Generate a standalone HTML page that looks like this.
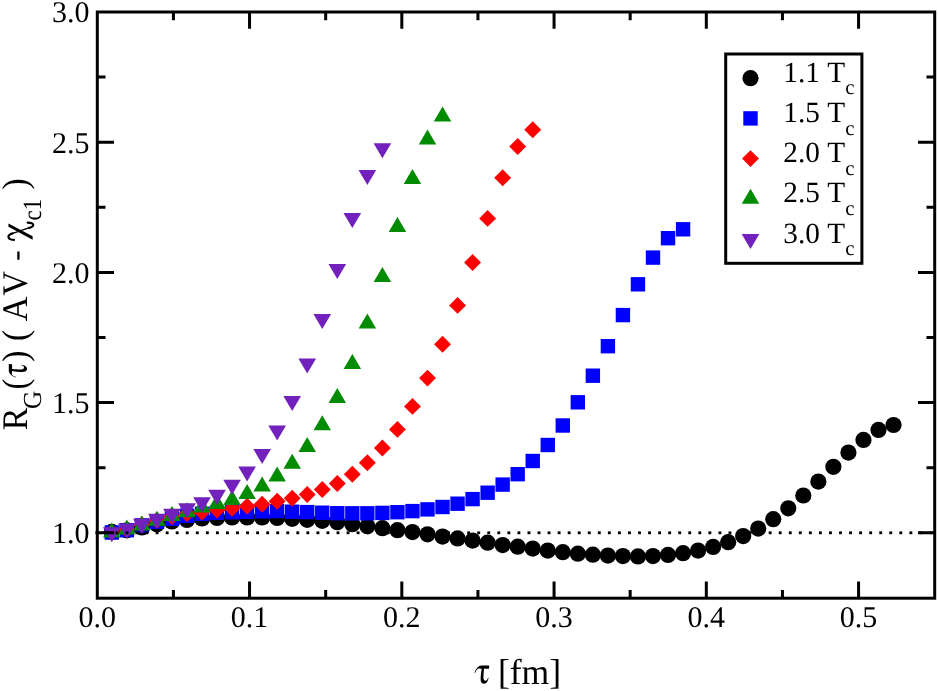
<!DOCTYPE html><html><head><meta charset="utf-8"><title>R_G(tau) AV chi_c1</title>
<style>html,body{margin:0;padding:0;background:#fff;}body{width:938px;height:691px;overflow:hidden;}svg{display:block;}text{font-family:"Liberation Serif",serif;fill:#000;text-rendering:geometricPrecision;font-kerning:none;}svg{will-change:transform;}</style></head><body>
<svg width="938" height="691" viewBox="0 0 938 691">
<rect width="938" height="691" fill="#fff"/>
<g><circle cx="111.80" cy="531.90" r="8.1" fill="#000000"/><circle cx="126.84" cy="530.30" r="8.1" fill="#000000"/><circle cx="141.87" cy="527.50" r="8.1" fill="#000000"/><circle cx="156.90" cy="524.30" r="8.1" fill="#000000"/><circle cx="171.94" cy="521.50" r="8.1" fill="#000000"/><circle cx="186.97" cy="519.90" r="8.1" fill="#000000"/><circle cx="202.00" cy="518.50" r="8.1" fill="#000000"/><circle cx="217.03" cy="517.90" r="8.1" fill="#000000"/><circle cx="232.07" cy="517.50" r="8.1" fill="#000000"/><circle cx="247.10" cy="517.50" r="8.1" fill="#000000"/><circle cx="262.13" cy="517.50" r="8.1" fill="#000000"/><circle cx="277.17" cy="518.00" r="8.1" fill="#000000"/><circle cx="292.20" cy="518.80" r="8.1" fill="#000000"/><circle cx="307.23" cy="519.80" r="8.1" fill="#000000"/><circle cx="322.26" cy="520.80" r="8.1" fill="#000000"/><circle cx="337.30" cy="522.20" r="8.1" fill="#000000"/><circle cx="352.33" cy="524.20" r="8.1" fill="#000000"/><circle cx="367.36" cy="526.20" r="8.1" fill="#000000"/><circle cx="382.40" cy="528.20" r="8.1" fill="#000000"/><circle cx="397.43" cy="530.20" r="8.1" fill="#000000"/><circle cx="412.46" cy="532.10" r="8.1" fill="#000000"/><circle cx="427.50" cy="534.30" r="8.1" fill="#000000"/><circle cx="442.53" cy="536.60" r="8.1" fill="#000000"/><circle cx="457.56" cy="538.40" r="8.1" fill="#000000"/><circle cx="472.59" cy="540.60" r="8.1" fill="#000000"/><circle cx="487.63" cy="542.70" r="8.1" fill="#000000"/><circle cx="502.66" cy="545.10" r="8.1" fill="#000000"/><circle cx="517.69" cy="546.70" r="8.1" fill="#000000"/><circle cx="532.73" cy="548.60" r="8.1" fill="#000000"/><circle cx="547.76" cy="550.60" r="8.1" fill="#000000"/><circle cx="562.79" cy="552.20" r="8.1" fill="#000000"/><circle cx="577.83" cy="553.70" r="8.1" fill="#000000"/><circle cx="592.86" cy="554.70" r="8.1" fill="#000000"/><circle cx="607.89" cy="555.60" r="8.1" fill="#000000"/><circle cx="622.92" cy="556.10" r="8.1" fill="#000000"/><circle cx="637.96" cy="556.40" r="8.1" fill="#000000"/><circle cx="652.99" cy="556.10" r="8.1" fill="#000000"/><circle cx="668.02" cy="554.90" r="8.1" fill="#000000"/><circle cx="683.06" cy="553.20" r="8.1" fill="#000000"/><circle cx="698.09" cy="550.60" r="8.1" fill="#000000"/><circle cx="713.12" cy="546.90" r="8.1" fill="#000000"/><circle cx="728.16" cy="542.20" r="8.1" fill="#000000"/><circle cx="743.19" cy="536.10" r="8.1" fill="#000000"/><circle cx="758.22" cy="528.60" r="8.1" fill="#000000"/><circle cx="773.25" cy="519.20" r="8.1" fill="#000000"/><circle cx="788.29" cy="508.30" r="8.1" fill="#000000"/><circle cx="803.32" cy="495.50" r="8.1" fill="#000000"/><circle cx="818.35" cy="481.60" r="8.1" fill="#000000"/><circle cx="833.39" cy="466.80" r="8.1" fill="#000000"/><circle cx="848.42" cy="452.60" r="8.1" fill="#000000"/><circle cx="863.45" cy="439.90" r="8.1" fill="#000000"/><circle cx="878.49" cy="429.90" r="8.1" fill="#000000"/><circle cx="893.52" cy="425.00" r="8.1" fill="#000000"/><rect x="104.60" y="525.30" width="14.4" height="14.4" fill="#0000ff"/><rect x="119.64" y="523.00" width="14.4" height="14.4" fill="#0000ff"/><rect x="134.67" y="518.20" width="14.4" height="14.4" fill="#0000ff"/><rect x="149.70" y="514.60" width="14.4" height="14.4" fill="#0000ff"/><rect x="164.74" y="511.60" width="14.4" height="14.4" fill="#0000ff"/><rect x="179.77" y="508.60" width="14.4" height="14.4" fill="#0000ff"/><rect x="194.80" y="506.60" width="14.4" height="14.4" fill="#0000ff"/><rect x="209.83" y="505.60" width="14.4" height="14.4" fill="#0000ff"/><rect x="224.87" y="505.00" width="14.4" height="14.4" fill="#0000ff"/><rect x="239.90" y="504.60" width="14.4" height="14.4" fill="#0000ff"/><rect x="254.93" y="504.20" width="14.4" height="14.4" fill="#0000ff"/><rect x="269.97" y="503.90" width="14.4" height="14.4" fill="#0000ff"/><rect x="285.00" y="504.50" width="14.4" height="14.4" fill="#0000ff"/><rect x="300.03" y="504.90" width="14.4" height="14.4" fill="#0000ff"/><rect x="315.06" y="505.50" width="14.4" height="14.4" fill="#0000ff"/><rect x="330.10" y="506.00" width="14.4" height="14.4" fill="#0000ff"/><rect x="345.13" y="506.10" width="14.4" height="14.4" fill="#0000ff"/><rect x="360.16" y="506.10" width="14.4" height="14.4" fill="#0000ff"/><rect x="375.20" y="505.70" width="14.4" height="14.4" fill="#0000ff"/><rect x="390.23" y="505.00" width="14.4" height="14.4" fill="#0000ff"/><rect x="405.26" y="503.90" width="14.4" height="14.4" fill="#0000ff"/><rect x="420.30" y="502.20" width="14.4" height="14.4" fill="#0000ff"/><rect x="435.33" y="499.80" width="14.4" height="14.4" fill="#0000ff"/><rect x="450.36" y="496.50" width="14.4" height="14.4" fill="#0000ff"/><rect x="465.39" y="491.90" width="14.4" height="14.4" fill="#0000ff"/><rect x="480.43" y="485.50" width="14.4" height="14.4" fill="#0000ff"/><rect x="495.46" y="477.40" width="14.4" height="14.4" fill="#0000ff"/><rect x="510.49" y="467.00" width="14.4" height="14.4" fill="#0000ff"/><rect x="525.53" y="453.80" width="14.4" height="14.4" fill="#0000ff"/><rect x="540.56" y="437.80" width="14.4" height="14.4" fill="#0000ff"/><rect x="555.59" y="418.30" width="14.4" height="14.4" fill="#0000ff"/><rect x="570.63" y="395.10" width="14.4" height="14.4" fill="#0000ff"/><rect x="585.66" y="368.50" width="14.4" height="14.4" fill="#0000ff"/><rect x="600.69" y="339.00" width="14.4" height="14.4" fill="#0000ff"/><rect x="615.72" y="307.90" width="14.4" height="14.4" fill="#0000ff"/><rect x="630.76" y="277.10" width="14.4" height="14.4" fill="#0000ff"/><rect x="645.79" y="250.40" width="14.4" height="14.4" fill="#0000ff"/><rect x="660.82" y="231.00" width="14.4" height="14.4" fill="#0000ff"/><rect x="675.86" y="222.10" width="14.4" height="14.4" fill="#0000ff"/><path d="M111.80 523.85L120.25 532.30L111.80 540.75L103.35 532.30Z" fill="#ff0000"/><path d="M126.84 521.15L135.29 529.60L126.84 538.05L118.39 529.60Z" fill="#ff0000"/><path d="M141.87 516.15L150.32 524.60L141.87 533.05L133.42 524.60Z" fill="#ff0000"/><path d="M156.90 511.85L165.35 520.30L156.90 528.75L148.45 520.30Z" fill="#ff0000"/><path d="M171.94 508.15L180.38 516.60L171.94 525.05L163.49 516.60Z" fill="#ff0000"/><path d="M186.97 505.05L195.42 513.50L186.97 521.95L178.52 513.50Z" fill="#ff0000"/><path d="M202.00 503.55L210.45 512.00L202.00 520.45L193.55 512.00Z" fill="#ff0000"/><path d="M217.03 501.55L225.48 510.00L217.03 518.45L208.58 510.00Z" fill="#ff0000"/><path d="M232.07 499.75L240.52 508.20L232.07 516.65L223.62 508.20Z" fill="#ff0000"/><path d="M247.10 497.75L255.55 506.20L247.10 514.65L238.65 506.20Z" fill="#ff0000"/><path d="M262.13 495.75L270.58 504.20L262.13 512.65L253.68 504.20Z" fill="#ff0000"/><path d="M277.17 492.85L285.62 501.30L277.17 509.75L268.72 501.30Z" fill="#ff0000"/><path d="M292.20 489.85L300.65 498.30L292.20 506.75L283.75 498.30Z" fill="#ff0000"/><path d="M307.23 486.05L315.68 494.50L307.23 502.95L298.78 494.50Z" fill="#ff0000"/><path d="M322.26 481.05L330.71 489.50L322.26 497.95L313.81 489.50Z" fill="#ff0000"/><path d="M337.30 475.05L345.75 483.50L337.30 491.95L328.85 483.50Z" fill="#ff0000"/><path d="M352.33 465.75L360.78 474.20L352.33 482.65L343.88 474.20Z" fill="#ff0000"/><path d="M367.36 454.35L375.81 462.80L367.36 471.25L358.91 462.80Z" fill="#ff0000"/><path d="M382.40 439.55L390.85 448.00L382.40 456.45L373.95 448.00Z" fill="#ff0000"/><path d="M397.43 420.95L405.88 429.40L397.43 437.85L388.98 429.40Z" fill="#ff0000"/><path d="M412.46 397.95L420.91 406.40L412.46 414.85L404.01 406.40Z" fill="#ff0000"/><path d="M427.50 369.65L435.95 378.10L427.50 386.55L419.05 378.10Z" fill="#ff0000"/><path d="M442.53 335.85L450.98 344.30L442.53 352.75L434.08 344.30Z" fill="#ff0000"/><path d="M457.56 296.95L466.01 305.40L457.56 313.85L449.11 305.40Z" fill="#ff0000"/><path d="M472.59 254.05L481.04 262.50L472.59 270.95L464.14 262.50Z" fill="#ff0000"/><path d="M487.63 209.95L496.08 218.40L487.63 226.85L479.18 218.40Z" fill="#ff0000"/><path d="M502.66 169.35L511.11 177.80L502.66 186.25L494.21 177.80Z" fill="#ff0000"/><path d="M517.69 138.05L526.14 146.50L517.69 154.95L509.24 146.50Z" fill="#ff0000"/><path d="M532.73 121.25L541.18 129.70L532.73 138.15L524.28 129.70Z" fill="#ff0000"/><path d="M111.80 522.50L120.55 537.50L103.05 537.50Z" fill="#008b00"/><path d="M126.84 519.60L135.59 534.60L118.09 534.60Z" fill="#008b00"/><path d="M141.87 515.60L150.62 530.60L133.12 530.60Z" fill="#008b00"/><path d="M156.90 510.70L165.65 525.70L148.15 525.70Z" fill="#008b00"/><path d="M171.94 505.90L180.69 520.90L163.19 520.90Z" fill="#008b00"/><path d="M186.97 502.20L195.72 517.20L178.22 517.20Z" fill="#008b00"/><path d="M202.00 497.40L210.75 512.40L193.25 512.40Z" fill="#008b00"/><path d="M217.03 494.00L225.78 509.00L208.28 509.00Z" fill="#008b00"/><path d="M232.07 490.00L240.82 505.00L223.32 505.00Z" fill="#008b00"/><path d="M247.10 484.00L255.85 499.00L238.35 499.00Z" fill="#008b00"/><path d="M262.13 476.50L270.88 491.50L253.38 491.50Z" fill="#008b00"/><path d="M277.17 466.50L285.92 481.50L268.42 481.50Z" fill="#008b00"/><path d="M292.20 453.80L300.95 468.80L283.45 468.80Z" fill="#008b00"/><path d="M307.23 437.00L315.98 452.00L298.48 452.00Z" fill="#008b00"/><path d="M322.26 415.30L331.01 430.30L313.51 430.30Z" fill="#008b00"/><path d="M337.30 388.00L346.05 403.00L328.55 403.00Z" fill="#008b00"/><path d="M352.33 354.00L361.08 369.00L343.58 369.00Z" fill="#008b00"/><path d="M367.36 313.60L376.11 328.60L358.61 328.60Z" fill="#008b00"/><path d="M382.40 267.00L391.15 282.00L373.65 282.00Z" fill="#008b00"/><path d="M397.43 217.00L406.18 232.00L388.68 232.00Z" fill="#008b00"/><path d="M412.46 169.00L421.21 184.00L403.71 184.00Z" fill="#008b00"/><path d="M427.50 129.40L436.25 144.40L418.75 144.40Z" fill="#008b00"/><path d="M442.53 106.60L451.28 121.60L433.78 121.60Z" fill="#008b00"/><path d="M111.80 542.30L120.65 527.30L102.95 527.30Z" fill="#7221bc"/><path d="M126.84 538.60L135.69 523.60L117.99 523.60Z" fill="#7221bc"/><path d="M141.87 533.80L150.72 518.80L133.02 518.80Z" fill="#7221bc"/><path d="M156.90 528.70L165.75 513.70L148.05 513.70Z" fill="#7221bc"/><path d="M171.94 523.70L180.78 508.70L163.09 508.70Z" fill="#7221bc"/><path d="M186.97 518.30L195.82 503.30L178.12 503.30Z" fill="#7221bc"/><path d="M202.00 512.20L210.85 497.20L193.15 497.20Z" fill="#7221bc"/><path d="M217.03 504.80L225.88 489.80L208.18 489.80Z" fill="#7221bc"/><path d="M232.07 494.80L240.92 479.80L223.22 479.80Z" fill="#7221bc"/><path d="M247.10 481.50L255.95 466.50L238.25 466.50Z" fill="#7221bc"/><path d="M262.13 464.00L270.98 449.00L253.28 449.00Z" fill="#7221bc"/><path d="M277.17 440.60L286.02 425.60L268.32 425.60Z" fill="#7221bc"/><path d="M292.20 411.00L301.05 396.00L283.35 396.00Z" fill="#7221bc"/><path d="M307.23 373.40L316.08 358.40L298.38 358.40Z" fill="#7221bc"/><path d="M322.26 329.00L331.12 314.00L313.41 314.00Z" fill="#7221bc"/><path d="M337.30 279.00L346.15 264.00L328.45 264.00Z" fill="#7221bc"/><path d="M352.33 228.00L361.18 213.00L343.48 213.00Z" fill="#7221bc"/><path d="M367.36 184.90L376.21 169.90L358.51 169.90Z" fill="#7221bc"/><path d="M382.40 158.20L391.25 143.20L373.55 143.20Z" fill="#7221bc"/></g>
<g fill="#000"><rect x="95.35" y="531.40" width="2.9" height="2.8"/><rect x="105.40" y="531.40" width="2.9" height="2.8"/><rect x="115.45" y="531.40" width="2.9" height="2.8"/><rect x="125.50" y="531.40" width="2.9" height="2.8"/><rect x="135.55" y="531.40" width="2.9" height="2.8"/><rect x="145.60" y="531.40" width="2.9" height="2.8"/><rect x="155.65" y="531.40" width="2.9" height="2.8"/><rect x="165.70" y="531.40" width="2.9" height="2.8"/><rect x="175.75" y="531.40" width="2.9" height="2.8"/><rect x="185.80" y="531.40" width="2.9" height="2.8"/><rect x="195.85" y="531.40" width="2.9" height="2.8"/><rect x="205.90" y="531.40" width="2.9" height="2.8"/><rect x="215.95" y="531.40" width="2.9" height="2.8"/><rect x="226.00" y="531.40" width="2.9" height="2.8"/><rect x="236.05" y="531.40" width="2.9" height="2.8"/><rect x="246.10" y="531.40" width="2.9" height="2.8"/><rect x="256.15" y="531.40" width="2.9" height="2.8"/><rect x="266.20" y="531.40" width="2.9" height="2.8"/><rect x="276.25" y="531.40" width="2.9" height="2.8"/><rect x="286.30" y="531.40" width="2.9" height="2.8"/><rect x="296.35" y="531.40" width="2.9" height="2.8"/><rect x="306.40" y="531.40" width="2.9" height="2.8"/><rect x="316.45" y="531.40" width="2.9" height="2.8"/><rect x="326.50" y="531.40" width="2.9" height="2.8"/><rect x="336.55" y="531.40" width="2.9" height="2.8"/><rect x="346.60" y="531.40" width="2.9" height="2.8"/><rect x="356.65" y="531.40" width="2.9" height="2.8"/><rect x="366.70" y="531.40" width="2.9" height="2.8"/><rect x="376.75" y="531.40" width="2.9" height="2.8"/><rect x="386.80" y="531.40" width="2.9" height="2.8"/><rect x="396.85" y="531.40" width="2.9" height="2.8"/><rect x="406.90" y="531.40" width="2.9" height="2.8"/><rect x="416.95" y="531.40" width="2.9" height="2.8"/><rect x="427.00" y="531.40" width="2.9" height="2.8"/><rect x="437.05" y="531.40" width="2.9" height="2.8"/><rect x="447.10" y="531.40" width="2.9" height="2.8"/><rect x="457.15" y="531.40" width="2.9" height="2.8"/><rect x="467.20" y="531.40" width="2.9" height="2.8"/><rect x="477.25" y="531.40" width="2.9" height="2.8"/><rect x="487.30" y="531.40" width="2.9" height="2.8"/><rect x="497.35" y="531.40" width="2.9" height="2.8"/><rect x="507.40" y="531.40" width="2.9" height="2.8"/><rect x="517.45" y="531.40" width="2.9" height="2.8"/><rect x="527.50" y="531.40" width="2.9" height="2.8"/><rect x="537.55" y="531.40" width="2.9" height="2.8"/><rect x="547.60" y="531.40" width="2.9" height="2.8"/><rect x="557.65" y="531.40" width="2.9" height="2.8"/><rect x="567.70" y="531.40" width="2.9" height="2.8"/><rect x="577.75" y="531.40" width="2.9" height="2.8"/><rect x="587.80" y="531.40" width="2.9" height="2.8"/><rect x="597.85" y="531.40" width="2.9" height="2.8"/><rect x="607.90" y="531.40" width="2.9" height="2.8"/><rect x="617.95" y="531.40" width="2.9" height="2.8"/><rect x="628.00" y="531.40" width="2.9" height="2.8"/><rect x="638.05" y="531.40" width="2.9" height="2.8"/><rect x="648.10" y="531.40" width="2.9" height="2.8"/><rect x="658.15" y="531.40" width="2.9" height="2.8"/><rect x="668.20" y="531.40" width="2.9" height="2.8"/><rect x="678.25" y="531.40" width="2.9" height="2.8"/><rect x="688.30" y="531.40" width="2.9" height="2.8"/><rect x="698.35" y="531.40" width="2.9" height="2.8"/><rect x="708.40" y="531.40" width="2.9" height="2.8"/><rect x="718.45" y="531.40" width="2.9" height="2.8"/><rect x="728.50" y="531.40" width="2.9" height="2.8"/><rect x="738.55" y="531.40" width="2.9" height="2.8"/><rect x="748.60" y="531.40" width="2.9" height="2.8"/><rect x="758.65" y="531.40" width="2.9" height="2.8"/><rect x="768.70" y="531.40" width="2.9" height="2.8"/><rect x="778.75" y="531.40" width="2.9" height="2.8"/><rect x="788.80" y="531.40" width="2.9" height="2.8"/><rect x="798.85" y="531.40" width="2.9" height="2.8"/><rect x="808.90" y="531.40" width="2.9" height="2.8"/><rect x="818.95" y="531.40" width="2.9" height="2.8"/><rect x="829.00" y="531.40" width="2.9" height="2.8"/><rect x="839.05" y="531.40" width="2.9" height="2.8"/><rect x="849.10" y="531.40" width="2.9" height="2.8"/><rect x="859.15" y="531.40" width="2.9" height="2.8"/><rect x="869.20" y="531.40" width="2.9" height="2.8"/><rect x="879.25" y="531.40" width="2.9" height="2.8"/><rect x="889.30" y="531.40" width="2.9" height="2.8"/><rect x="899.35" y="531.40" width="2.9" height="2.8"/><rect x="909.40" y="531.40" width="2.9" height="2.8"/><rect x="919.45" y="531.40" width="2.9" height="2.8"/><rect x="929.50" y="531.40" width="2.9" height="2.8"/></g>
<g stroke="#000" stroke-width="3" fill="none"><path d="M173.43 598.2V590.00M173.43 12.0V20.20"/><path d="M249.55 598.2V581.50M249.55 12.0V28.70"/><path d="M325.68 598.2V590.00M325.68 12.0V20.20"/><path d="M401.81 598.2V581.50M401.81 12.0V28.70"/><path d="M477.94 598.2V590.00M477.94 12.0V20.20"/><path d="M554.06 598.2V581.50M554.06 12.0V28.70"/><path d="M630.19 598.2V590.00M630.19 12.0V20.20"/><path d="M706.32 598.2V581.50M706.32 12.0V28.70"/><path d="M782.45 598.2V590.00M782.45 12.0V20.20"/><path d="M858.57 598.2V581.50M858.57 12.0V28.70"/><path d="M97.3 77.10H105.50M934.7 77.10H926.50"/><path d="M97.3 142.20H114.00M934.7 142.20H918.00"/><path d="M97.3 207.30H105.50M934.7 207.30H926.50"/><path d="M97.3 272.40H114.00M934.7 272.40H918.00"/><path d="M97.3 337.50H105.50M934.7 337.50H926.50"/><path d="M97.3 402.60H114.00M934.7 402.60H918.00"/><path d="M97.3 467.70H105.50M934.7 467.70H926.50"/><path d="M97.3 532.80H114.00M934.7 532.80H918.00"/></g>
<rect x="97.3" y="12.0" width="837.40" height="586.20" fill="none" stroke="#000" stroke-width="3"/>
<g font-size="30"><text x="97.30" y="626.6" text-anchor="middle">0.0</text><text x="249.55" y="626.6" text-anchor="middle">0.1</text><text x="401.81" y="626.6" text-anchor="middle">0.2</text><text x="554.06" y="626.6" text-anchor="middle">0.3</text><text x="706.32" y="626.6" text-anchor="middle">0.4</text><text x="858.57" y="626.6" text-anchor="middle">0.5</text><text x="89.6" y="22.40" text-anchor="end">3.0</text><text x="89.6" y="152.60" text-anchor="end">2.5</text><text x="89.6" y="282.80" text-anchor="end">2.0</text><text x="89.6" y="413.00" text-anchor="end">1.5</text><text x="89.6" y="543.20" text-anchor="end">1.0</text></g>
<path transform="translate(474.3 683.7)" d="M0.2 -11.0C1.6 -14.6 3.6 -17.8 7.0 -18.2L14.9 -18.2L14.7 -14.9L9.7 -14.9C9.4 -11 9.1 -8 9.15 -6C9.2 -4 10.1 -3.0 11.3 -3.0C12.5 -3.0 13.2 -4.3 13.8 -6.2L14.2 -6.0C13.9 -2.8 12.2 0 9.9 0C7.5 0 6.2 -1.8 6.3 -5.0C6.4 -8 6.8 -11 7.4 -14.9L5.8 -14.9C4.2 -15.8 2.4 -15.0 0.8 -10.8Z" fill="#000"/>
<text x="497.9" y="683.6" font-size="36" textLength="63.3" lengthAdjust="spacingAndGlyphs">[fm]</text>
<g transform="translate(27.0 430.3) rotate(-90)" font-size="36"><text transform="translate(0 0) scale(0.94 1)">R</text><text transform="translate(21.4 13.8) scale(0.97 1)" font-size="26">G</text><text transform="translate(40.7 0) scale(0.9 1)">(</text><path transform="translate(52.5 0) scale(0.92 1)" d="M0.2 -11.0C1.6 -14.6 3.6 -17.8 7.0 -18.2L14.9 -18.2L14.7 -14.9L9.7 -14.9C9.4 -11 9.1 -8 9.15 -6C9.2 -4 10.1 -3.0 11.3 -3.0C12.5 -3.0 13.2 -4.3 13.8 -6.2L14.2 -6.0C13.9 -2.8 12.2 0 9.9 0C7.5 0 6.2 -1.8 6.3 -5.0C6.4 -8 6.8 -11 7.4 -14.9L5.8 -14.9C4.2 -15.8 2.4 -15.0 0.8 -10.8Z" fill="#000"/><text transform="translate(68.5 0) scale(0.93 1)">)</text><text transform="translate(89.2 0) scale(0.93 1)">(</text><text transform="translate(109.1 0) scale(0.95 1)">A</text><text transform="translate(134.6 0) scale(0.95 1)">V</text><rect x="170.6" y="-9.75" width="8.2" height="2.3" fill="#000"/><g transform="translate(189.8 0)"><path d="M13.8 -18.55L17.0 -18.55L4.2 5.6L0.8 5.6Z" fill="#000"/><g fill="none" stroke="#000" stroke-linecap="round"><path d="M0.6 -13.0C0.8 -16.5 2.2 -18.6 3.8 -18.6C5.6 -18.6 6.4 -16.8 7.2 -14.2" stroke-width="2.1"/><path d="M7.2 -14.2L12.6 1.8" stroke-width="1.4"/><path d="M12.6 1.8C13.4 4.4 14.2 6.3 15.6 6.3C17 6.3 17.7 4 17.9 0.6" stroke-width="2.1"/></g></g><text transform="translate(209.9 13.8) scale(0.86 1)" font-size="26.5">c1</text><text transform="translate(240.8 0) scale(0.93 1)">)</text></g>
<rect x="725.7" y="54" width="136.2" height="209.3" fill="#fff" stroke="#000" stroke-width="3"/>
<circle cx="750.50" cy="78.20" r="8.1" fill="#000000"/>
<rect x="743.30" y="111.20" width="14.4" height="14.4" fill="#0000ff"/>
<path d="M750.50 150.15L758.95 158.60L750.50 167.05L742.05 158.60Z" fill="#ff0000"/>
<path d="M750.50 188.80L759.25 203.80L741.75 203.80Z" fill="#008b00"/>
<path d="M750.50 249.00L759.35 234.00L741.65 234.00Z" fill="#7221bc"/>
<g font-size="29.3"><text x="783.3" y="81.80">1.1 T<tspan font-size="20.8" dy="12.6">c</tspan></text><text x="783.3" y="122.00">1.5 T<tspan font-size="20.8" dy="12.6">c</tspan></text><text x="783.3" y="162.20">2.0 T<tspan font-size="20.8" dy="12.6">c</tspan></text><text x="783.3" y="202.40">2.5 T<tspan font-size="20.8" dy="12.6">c</tspan></text><text x="783.3" y="242.60">3.0 T<tspan font-size="20.8" dy="12.6">c</tspan></text></g>
</svg></body></html>
